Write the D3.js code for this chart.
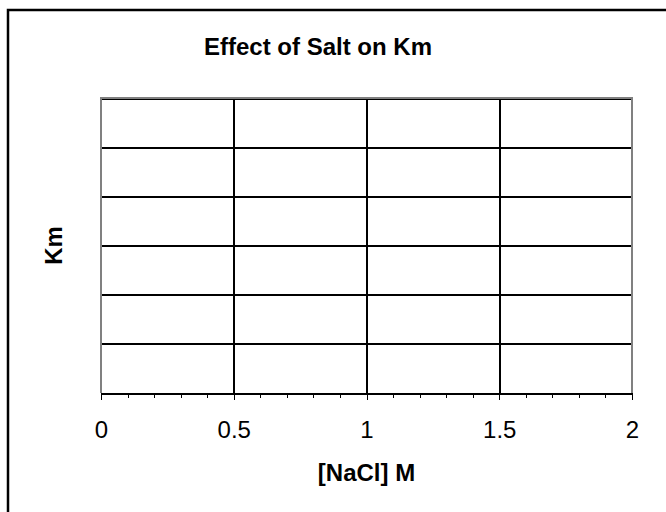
<!DOCTYPE html>
<html>
<head>
<meta charset="utf-8">
<script src="https://cdn.jsdelivr.net/npm/d3@7"></script>
<style>
  html, body { margin: 0; padding: 0; background: #fff; }
  svg { display: block; font-family: Arial, "Liberation Sans", sans-serif; }
  line, path { shape-rendering: crispEdges; }
</style>
</head>
<body>
<svg id="chart" width="666" height="512"></svg>
<script>
// Chart text
const chartTitle = 'Effect of Salt on Km';
const xTitle     = '[NaCl] M';
const yTitle     = 'Km';

// Axis ranges and ticks
const xDomain    = [0, 2];
const xMajor     = [0, 0.5, 1, 1.5, 2];
const xMinor     = [0.1, 0.2, 0.3, 0.4, 0.6, 0.7, 0.8, 0.9, 1.1, 1.2, 1.3, 1.4, 1.6, 1.7, 1.8, 1.9];
const yDomain    = [0, 6];
const yGrid      = [1, 2, 3, 4, 5, 6];

// No data points were plotted in the reference
const seriesX    = [];
const seriesY    = [];

let svg    = d3.select('#chart'),
    plot   = { left: 101, top: 98, right: 632, bottom: 393 },
    x      = d3.scaleLinear().domain(xDomain).range([plot.left, plot.right]),
    y      = d3.scaleLinear().domain(yDomain).range([plot.bottom, plot.top]);

// Outer chart frame (runs off the right and bottom edges)
svg.append('rect')
    .attr('x', 8).attr('y', 10)
    .attr('width', 700).attr('height', 600)
    .attr('fill', '#fff')
    .attr('stroke', '#000')
    .attr('stroke-width', 2.5);

// Horizontal gridlines
svg.append('g')
    .attr('transform', 'translate(' + plot.left + ',0)')
    .call(d3.axisRight(y).tickValues(yGrid).tickSize(plot.right - plot.left).tickFormat(''))
    .call(g => g.select('.domain').remove())
    .selectAll('line')
    .attr('stroke', '#000')
    .attr('stroke-width', 2);

// Vertical gridlines at the major ticks
svg.append('g')
    .attr('transform', 'translate(0,' + plot.top + ')')
    .call(d3.axisBottom(x).tickValues(xMajor.slice(1, -1)).tickSize(plot.bottom - plot.top).tickFormat(''))
    .call(g => g.select('.domain').remove())
    .selectAll('line')
    .attr('stroke', '#000')
    .attr('stroke-width', 2);

// Plot area border: grey on top, left and right
svg.append('path')
    .attr('d', 'M' + plot.left + ',' + plot.bottom + 'V' + plot.top + 'H' + plot.right + 'V' + plot.bottom)
    .attr('fill', 'none')
    .attr('stroke', '#808080')
    .attr('stroke-width', 2);

// Minor ticks
svg.append('g')
    .attr('transform', 'translate(0,' + plot.bottom + ')')
    .call(d3.axisBottom(x).tickValues(xMinor).tickSize(5).tickFormat(''))
    .call(g => g.select('.domain').remove())
    .selectAll('line')
    .attr('stroke', '#000')
    .attr('stroke-width', 1);

// X axis with major ticks and labels
let xAxis = svg.append('g')
    .attr('transform', 'translate(0,' + plot.bottom + ')')
    .call(d3.axisBottom(x).tickValues(xMajor).tickSize(7).tickPadding(21).tickSizeOuter(0).tickFormat(d3.format('')));

xAxis.select('.domain')
    .attr('stroke', '#000')
    .attr('stroke-width', 2);
xAxis.selectAll('.tick line')
    .attr('stroke', '#000')
    .attr('stroke-width', 1);
xAxis.selectAll('.tick text')
    .attr('fill', '#000')
    .attr('font-family', 'Arial, "Liberation Sans", sans-serif')
    .attr('font-size', 24);

// Empty series
svg.append('g').selectAll('circle')
    .data(seriesX.map((d, i) => [d, seriesY[i]]))
    .join('circle')
    .attr('cx', d => x(d[0]))
    .attr('cy', d => y(d[1]))
    .attr('r', 4);

// Titles
svg.append('text')
    .attr('x', 318).attr('y', 55)
    .attr('text-anchor', 'middle')
    .attr('font-weight', 'bold')
    .attr('font-size', 24)
    .text(chartTitle);

svg.append('text')
    .attr('x', (plot.left + plot.right) / 2).attr('y', 481)
    .attr('text-anchor', 'middle')
    .attr('font-weight', 'bold')
    .attr('font-size', 24)
    .text(xTitle);

svg.append('text')
    .attr('transform', 'translate(62,' + (plot.top + plot.bottom) / 2 + ') rotate(-90)')
    .attr('text-anchor', 'middle')
    .attr('font-weight', 'bold')
    .attr('font-size', 24)
    .text(yTitle);
</script>
</body>
</html>
